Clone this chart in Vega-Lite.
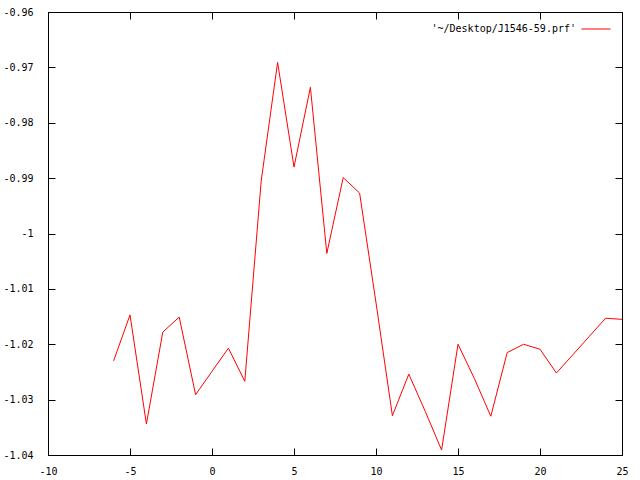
{
  "$schema": "https://vega.github.io/schema/vega-lite/v6.json",
  "autosize": {"type": "none"},
  "width": 574,
  "height": 443,
  "padding": {"left": 48, "top": 12, "right": 18, "bottom": 25},
  "background": "white",
  "config": {
    "locale": {"number": {"decimal": ".", "thousands": ",", "grouping": [3], "currency": ["$", ""], "minus": "-"}},
    "view": {"stroke": "black", "strokeWidth": 1},
    "font": "DejaVu Sans Mono",
    "axis": {
      "grid": false,
      "domain": false,
      "ticks": true,
      "tickColor": "black",
      "tickOpacity": 1,
      "tickWidth": 1,
      "tickSize": 7,
      "offset": -7,
      "labelFont": "DejaVu Sans Mono",
      "labelFontSize": 10,
      "labelColor": "black",
      "title": null,
      "zindex": 1
    },
    "legend": {
      "labelFont": "DejaVu Sans Mono",
      "labelFontSize": 10,
      "labelColor": "black"
    }
  },
  "data": {
    "values": [
      {"x": -6, "y": -1.0230, "series": "'~/Desktop/J1546-59.prf'"},
      {"x": -5, "y": -1.0147, "series": "'~/Desktop/J1546-59.prf'"},
      {"x": -4, "y": -1.0344, "series": "'~/Desktop/J1546-59.prf'"},
      {"x": -3, "y": -1.0178, "series": "'~/Desktop/J1546-59.prf'"},
      {"x": -2, "y": -1.0151, "series": "'~/Desktop/J1546-59.prf'"},
      {"x": -1, "y": -1.0291, "series": "'~/Desktop/J1546-59.prf'"},
      {"x": 0, "y": -1.0249, "series": "'~/Desktop/J1546-59.prf'"},
      {"x": 1, "y": -1.0207, "series": "'~/Desktop/J1546-59.prf'"},
      {"x": 2, "y": -1.0267, "series": "'~/Desktop/J1546-59.prf'"},
      {"x": 3, "y": -0.9905, "series": "'~/Desktop/J1546-59.prf'"},
      {"x": 4, "y": -0.9691, "series": "'~/Desktop/J1546-59.prf'"},
      {"x": 5, "y": -0.9880, "series": "'~/Desktop/J1546-59.prf'"},
      {"x": 6, "y": -0.9736, "series": "'~/Desktop/J1546-59.prf'"},
      {"x": 7, "y": -1.0036, "series": "'~/Desktop/J1546-59.prf'"},
      {"x": 8, "y": -0.9899, "series": "'~/Desktop/J1546-59.prf'"},
      {"x": 9, "y": -0.9927, "series": "'~/Desktop/J1546-59.prf'"},
      {"x": 10, "y": -1.0125, "series": "'~/Desktop/J1546-59.prf'"},
      {"x": 11, "y": -1.0329, "series": "'~/Desktop/J1546-59.prf'"},
      {"x": 12, "y": -1.0254, "series": "'~/Desktop/J1546-59.prf'"},
      {"x": 13, "y": -1.0321, "series": "'~/Desktop/J1546-59.prf'"},
      {"x": 14, "y": -1.0391, "series": "'~/Desktop/J1546-59.prf'"},
      {"x": 15, "y": -1.0200, "series": "'~/Desktop/J1546-59.prf'"},
      {"x": 16, "y": -1.0262, "series": "'~/Desktop/J1546-59.prf'"},
      {"x": 17, "y": -1.0330, "series": "'~/Desktop/J1546-59.prf'"},
      {"x": 18, "y": -1.0215, "series": "'~/Desktop/J1546-59.prf'"},
      {"x": 19, "y": -1.0200, "series": "'~/Desktop/J1546-59.prf'"},
      {"x": 20, "y": -1.0209, "series": "'~/Desktop/J1546-59.prf'"},
      {"x": 21, "y": -1.0252, "series": "'~/Desktop/J1546-59.prf'"},
      {"x": 22, "y": -1.0219, "series": "'~/Desktop/J1546-59.prf'"},
      {"x": 23, "y": -1.0186, "series": "'~/Desktop/J1546-59.prf'"},
      {"x": 24, "y": -1.0153, "series": "'~/Desktop/J1546-59.prf'"},
      {"x": 25, "y": -1.0155, "series": "'~/Desktop/J1546-59.prf'"}
    ]
  },
  "layer": [
    {
      "mark": {"type": "line", "strokeWidth": 1, "interpolate": "linear"},
      "encoding": {
        "x": {
          "field": "x", "type": "quantitative",
          "scale": {"domain": [-10, 25], "nice": false, "zero": false},
          "axis": {"orient": "bottom", "values": [-10, -5, 0, 5, 10, 15, 20, 25], "format": "~g", "labelPadding": 11, "labelFlush": false}
        },
        "y": {
          "field": "y", "type": "quantitative",
          "scale": {"domain": [-1.04, -0.96], "nice": false, "zero": false},
          "axis": {"orient": "left", "values": [-1.04, -1.03, -1.02, -1.01, -1, -0.99, -0.98, -0.97, -0.96], "format": "~g", "labelPadding": 15, "labelFlush": false}
        },
        "color": {
          "field": "series", "type": "nominal",
          "scale": {"range": ["#ff0000"]},
          "legend": {
            "title": null,
            "orient": "none",
            "legendX": 533,
            "legendY": 2,
            "symbolType": "stroke",
            "symbolSize": 841,
            "symbolStrokeWidth": 1,
            "labelAlign": "right",
            "labelOffset": -35,
            "padding": 0
          }
        }
      }
    },
    {
      "mark": {"type": "line", "strokeWidth": 1, "opacity": 0},
      "encoding": {
        "x": {
          "field": "x", "type": "quantitative",
          "axis": {"orient": "top", "values": [-10, -5, 0, 5, 10, 15, 20, 25], "labels": false}
        },
        "y": {
          "field": "y", "type": "quantitative",
          "axis": {"orient": "right", "values": [-1.04, -1.03, -1.02, -1.01, -1, -0.99, -0.98, -0.97, -0.96], "labels": false}
        }
      }
    }
  ],
  "resolve": {"axis": {"x": "independent", "y": "independent"}}
}
